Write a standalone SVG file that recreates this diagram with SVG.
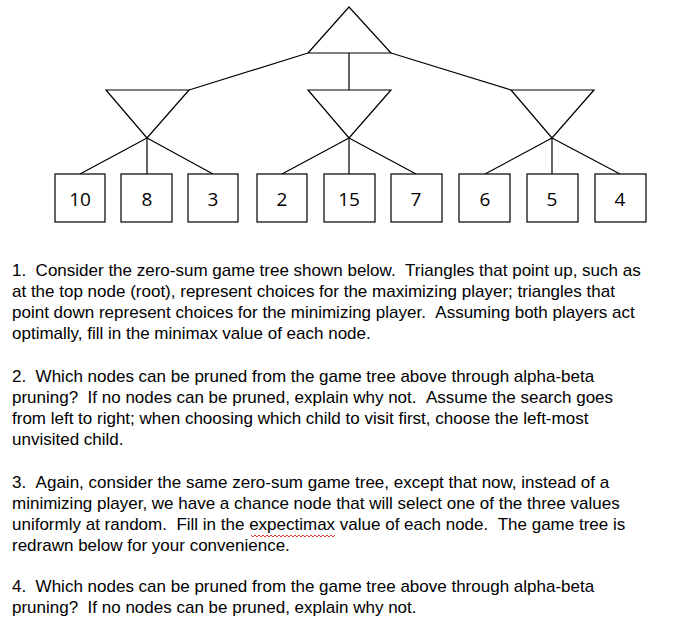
<svg xmlns="http://www.w3.org/2000/svg" width="699" height="630" viewBox="0 0 699 630">
<style>
.s{fill:#fff;stroke:#000;stroke-width:1.2}
.e{stroke:#000;stroke-width:1.2;fill:none}
.n{font-family:"Open Sans","Liberation Sans",sans-serif;font-size:19px;text-anchor:middle}
.t{font-family:"Liberation Sans",Arial,sans-serif;font-size:17px;fill:#000}
</style>
<rect width="699" height="630" fill="#fff"/>
<g id="edges" class="e">
<path d="M308,53L189,90M349,53V90M391,53L511,90"/>
<path d="M147,138L80,174M147,138V174M147,138L213,174"/>
<path d="M349,138L282,174M349,138V174M349,138L416,174"/>
<path d="M552,138L485,174M552,138V174M552,138L620,174"/>
</g>
<g id="root"><polygon class="s" points="349,7 308,53 391,53"/></g>
<g id="min1"><polygon class="s" points="106,90 189,90 147,138"/></g>
<g id="min2"><polygon class="s" points="308,90 391,90 349,138"/></g>
<g id="min3"><polygon class="s" points="511,90 594,90 552,138"/></g>
<g id="l1"><rect class="s" x="55" y="174" width="50" height="48"/><text class="n" x="80" y="206">10</text></g>
<g id="l2"><rect class="s" x="121" y="174" width="51" height="48"/><text class="n" x="147" y="206">8</text></g>
<g id="l3"><rect class="s" x="188" y="174" width="50" height="48"/><text class="n" x="213" y="206">3</text></g>
<g id="l4"><rect class="s" x="257" y="174" width="50" height="48"/><text class="n" x="282" y="206">2</text></g>
<g id="l5"><rect class="s" x="324" y="174" width="51" height="48"/><text class="n" x="349" y="206">15</text></g>
<g id="l6"><rect class="s" x="391" y="174" width="51" height="48"/><text class="n" x="416" y="206">7</text></g>
<g id="l7"><rect class="s" x="459" y="174" width="51" height="48"/><text class="n" x="485" y="206">6</text></g>
<g id="l8"><rect class="s" x="527" y="174" width="51" height="48"/><text class="n" x="552" y="206">5</text></g>
<g id="l9"><rect class="s" x="595" y="174" width="51" height="48"/><text class="n" x="620" y="206">4</text></g>
<g class="t">
<text x="12" y="276">1. &#160;Consider the zero-sum game tree shown below. &#160;Triangles that point up, such as</text>
<text x="12" y="297">at the top node (root), represent choices for the maximizing player; triangles that</text>
<text x="12" y="318">point down represent choices for the minimizing player. &#160;Assuming both players act</text>
<text x="12" y="339">optimally, fill in the minimax value of each node.</text>
<text x="12" y="382">2. &#160;Which nodes can be pruned from the game tree above through alpha-beta</text>
<text x="12" y="403">pruning? &#160;If no nodes can be pruned, explain why not. &#160;Assume the search goes</text>
<text x="12" y="424">from left to right; when choosing which child to visit first, choose the left-most</text>
<text x="12" y="445">unvisited child.</text>
<text x="12" y="488">3. &#160;Again, consider the same zero-sum game tree, except that now, instead of a</text>
<text x="12" y="509">minimizing player, we have a chance node that will select one of the three values</text>
<text x="12" y="530">uniformly at random. &#160;Fill in the expectimax value of each node. &#160;The game tree is</text>
<text x="12" y="551">redrawn below for your convenience.</text>
<text x="12" y="592">4. &#160;Which nodes can be pruned from the game tree above through alpha-beta</text>
<text x="12" y="613">pruning? &#160;If no nodes can be pruned, explain why not.</text>
</g>
<path d="M251,535 l2,2 2,-2 2,2 2,-2 2,2 2,-2 2,2 2,-2 2,2 2,-2 2,2 2,-2 2,2 2,-2 2,2 2,-2 2,2 2,-2 2,2 2,-2 2,2 2,-2 2,2 2,-2 2,2 2,-2 2,2 2,-2 2,2 2,-2 2,2 2,-2 2,2 2,-2 2,2 2,-2 2,2 2,-2 2,2 2,-2 2,2 2,-2" fill="none" stroke="#e00" stroke-width="0.8"/>
</svg>
